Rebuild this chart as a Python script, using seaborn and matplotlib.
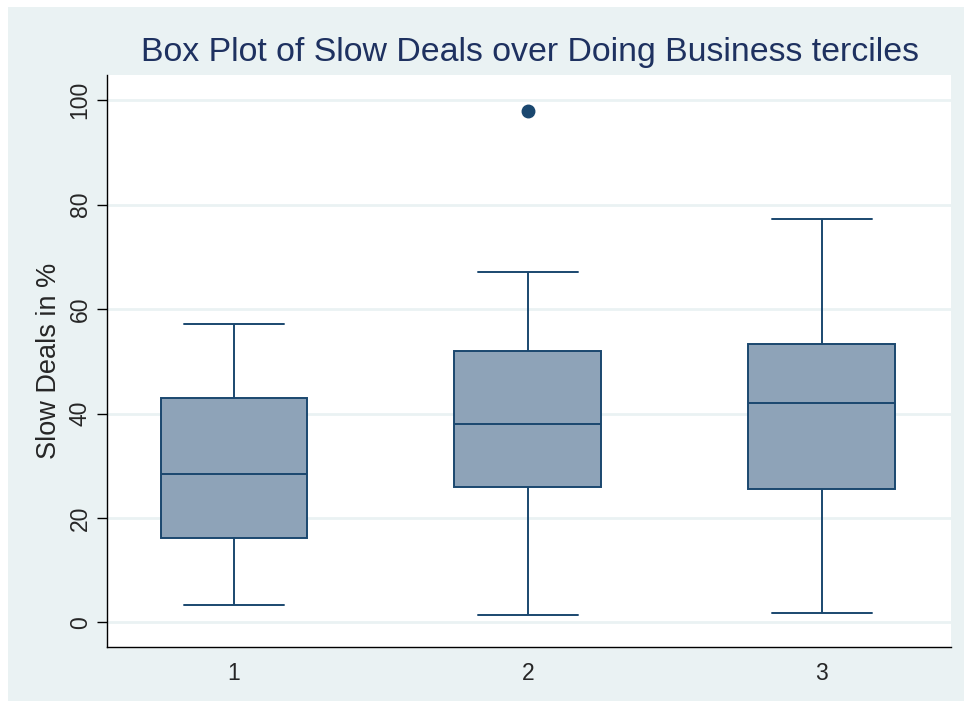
import pandas as pd
import matplotlib.pyplot as plt
import seaborn as sns
from matplotlib.patches import Rectangle

# five-number summaries, one entry per tercile
terciles = ["1", "2", "3"]
lower_whisker = [3.4, 1.5, 1.9]
q1 = [16.1, 26.0, 25.5]
median = [28.5, 37.9, 42.0]
q3 = [42.9, 51.9, 53.4]
upper_whisker = [57.1, 67.0, 77.2]
outliers = [[], [98.0], []]

y_ticks = [0, 20, 40, 60, 80, 100]

navy = "#1A476F"
box_fill = "#8EA3B8"
bg = "#EAF2F3"

# long-form table whose quartiles reproduce the summaries above
rows = []
for i, t in enumerate(terciles):
    vals = [lower_whisker[i], q1[i], q1[i], median[i], median[i], q3[i], q3[i], upper_whisker[i]] + outliers[i]
    rows += [{"tercile": t, "slow": v} for v in vals]
df = pd.DataFrame(rows)

sns.set_style("white")
plt.rcParams["font.family"] = ["Liberation Sans", "DejaVu Sans"]

fig = plt.figure(figsize=(9.64, 7.01), dpi=100)
fig.patch.set_facecolor("white")
fig.add_artist(Rectangle((8 / 964, 0), 1, (701 - 7) / 701, transform=fig.transFigure,
                         facecolor=bg, edgecolor="none", zorder=0))

ax = fig.add_axes([107 / 964, (701 - 646.5) / 701, (951 - 107) / 964, (646.5 - 75) / 701])
ax.set_facecolor("white")
ax.set_axisbelow(True)

sns.boxplot(data=df, x="tercile", y="slow", order=terciles, ax=ax,
            color=box_fill, saturation=1, width=0.5, linecolor=navy, linewidth=1.4,
            capwidths=0.34,
            flierprops=dict(marker="o", markerfacecolor=navy, markeredgecolor=navy, markersize=9))

ax.set_xlim(-0.432, 2.439)
ax.set_ylim(-4.6, 104.8)
ax.set_yticks(y_ticks)
ax.yaxis.grid(True, color=bg, linewidth=2)
ax.xaxis.grid(False)

for s in ["top", "right"]:
    ax.spines[s].set_visible(False)
for s in ["left", "bottom"]:
    ax.spines[s].set_color("black")
    ax.spines[s].set_linewidth(1.0)

ax.tick_params(axis="y", left=True, length=7, width=1, color="black", labelsize=16.5, pad=4)
ax.tick_params(axis="x", bottom=False, length=0, labelsize=16.5, pad=11)
for lab in ax.get_yticklabels():
    lab.set_rotation(90)
    lab.set_va("center")

ax.set_xlabel("")
ax.set_ylabel("Slow Deals in %", fontsize=19.5, labelpad=5)
fig.text(530 / 964, 1 - 53 / 701, "Box Plot of Slow Deals over Doing Business terciles",
         ha="center", va="center", fontsize=24.4, color="#1E3160")

fig.savefig("out.png", dpi=100)
